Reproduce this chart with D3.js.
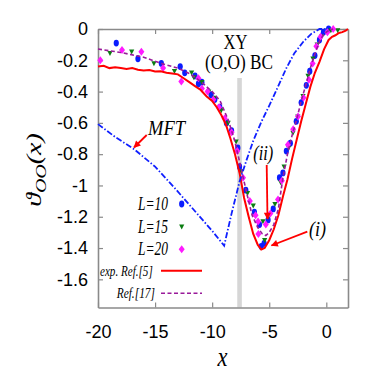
<!DOCTYPE html>
<html>
<head>
<meta charset="utf-8">
<script src="https://cdn.jsdelivr.net/npm/d3@7"></script>
<style>
  body { margin: 0; background: #fff; }
  svg { display: block; }
</style>
</head>
<body>
<script>
// data

var xTicks = [-20, -15, -10, -5, 0];
var yTicks = [0, -0.2, -0.4, -0.6, -0.8, -1, -1.2, -1.4, -1.6];

// experiment, Ref.[5]
var expX = [-20, -19.5, -19, -18.5, -18, -17.5, -17, -16.5, -16, -15.5, -15, -14.5, -14, -13.5, -13, -12.5, -12, -11.5, -11, -10.5, -10, -9.6, -9.2, -8.8, -8.4, -8.0, -7.6, -7.2, -6.8, -6.4, -6.0, -5.7, -5.4, -5.0, -4.6, -4.2, -3.8, -3.4, -3.0, -2.6, -2.2, -1.8, -1.4, -1.0, -0.6, -0.2, 0.2, 0.5, 0.8, 1.1, 1.4, 1.7, 1.9];
var expY = [-0.24, -0.235, -0.25, -0.245, -0.25, -0.255, -0.25, -0.26, -0.265, -0.262, -0.272, -0.27, -0.28, -0.285, -0.29, -0.315, -0.34, -0.365, -0.39, -0.43, -0.46, -0.50, -0.55, -0.61, -0.70, -0.80, -0.92, -1.08, -1.20, -1.31, -1.38, -1.41, -1.40, -1.35, -1.28, -1.19, -1.07, -0.96, -0.83, -0.71, -0.59, -0.48, -0.37, -0.28, -0.21, -0.13, -0.07, -0.05, -0.04, -0.025, -0.02, -0.01, 0];

// Ref.[17]
var refX = [-20, -18, -16, -14.5, -13, -12, -11, -10, -9.3, -8.6, -8.0, -7.5, -7.0, -6.5, -6.0, -5.6, -5.3, -5.0, -4.6, -4.2, -3.8, -3.4, -3.0, -2.6, -2.2, -1.8, -1.4, -1.0, -0.6, -0.2, 0.2, 0.6];
var refY = [-0.128, -0.15, -0.18, -0.219, -0.25, -0.285, -0.335, -0.40, -0.46, -0.58, -0.72, -0.88, -1.04, -1.19, -1.27, -1.31, -1.32, -1.30, -1.25, -1.15, -0.95, -0.80, -0.68, -0.58, -0.46, -0.36, -0.25, -0.16, -0.08, -0.03, -0.01, 0];

// mean field theory
var mftX = [-20, -18.5, -16.8, -15, -13.3, -11.5, -10, -8.95, -8.3, -7.6, -7.0, -6.4, -5.7, -5.0, -4.3, -3.5, -2.8, -2.0, -1.3, -0.6, 0];
var mftY = [-0.608, -0.69, -0.77, -0.88, -1.015, -1.165, -1.29, -1.385, -1.18, -0.975, -0.84, -0.715, -0.595, -0.49, -0.38, -0.25, -0.155, -0.08, -0.03, 0, 0];

// simulation points
var l10X = [-18.4, -16.5, -14.45, -12.8, -12.4, -11.5, -11.2, -10.9, -10.1, -9.77, -9.33, -8.75, -8.3, -7.75, -7.6, -7.05, -6.3, -5.85, -5.7, -5.45, -5.1, -4.65, -4.1, -3.8, -3.5, -3.15, -2.63, -2.2, -1.75, -1.45, -1.0, -0.6, -0.25, 0.2];
var l10Y = [-0.09, -0.19, -0.22, -0.24, -0.28, -0.30, -0.35, -0.34, -0.42, -0.45, -0.50, -0.60, -0.65, -0.76, -0.88, -1.03, -1.17, -1.25, -1.39, -1.37, -1.22, -1.15, -0.95, -0.92, -0.78, -0.73, -0.59, -0.47, -0.36, -0.27, -0.17, -0.07, -0.02, 0];

var l15X = [-18.95, -17.05, -15.1, -13.3, -11.8, -11.6, -10.9, -10.3, -9.8, -9.2, -8.6, -7.9, -7.45, -6.9, -6.4, -5.55, -5.4, -5.1, -4.5, -4.0, -3.7, -3.3, -2.92, -2.5, -2.04, -1.6, -1.17, -0.8, -0.4, 0.4, 1.0];
var l15Y = [-0.155, -0.145, -0.22, -0.27, -0.28, -0.31, -0.34, -0.40, -0.44, -0.52, -0.60, -0.72, -0.91, -1.05, -1.13, -1.23, -1.35, -1.20, -1.12, -0.98, -0.88, -0.76, -0.665, -0.56, -0.43, -0.30, -0.19, -0.10, -0.05, -0.01, -0.01];

var l20X = [-19.8, -17.9, -16.2, -14.3, -12.7, -11.2, -10.9, -10.4, -9.9, -9.4, -8.9, -8.3, -7.8, -7.3, -6.7, -6.2, -5.98, -5.95, -5.3, -4.9, -4.23, -3.9, -3.36, -2.9, -2.48, -2.0, -1.52, -1.2, -0.87, -0.5, 0.1, 0.6];
var l20Y = [-0.2, -0.135, -0.145, -0.25, -0.335, -0.315, -0.38, -0.40, -0.45, -0.50, -0.57, -0.66, -0.78, -0.95, -1.10, -1.19, -1.23, -1.31, -1.25, -1.18, -1.09, -0.97, -0.74, -0.64, -0.56, -0.44, -0.325, -0.22, -0.11, -0.05, -0.02, 0];

var bcX = -7.6;

var width = 374;
var height = 382;
var padL = 98, padR = 348, padT = 29, padB = 307.5;

var svg = d3.select('body').append('svg')
  .attr('width', width)
  .attr('height', height);

var x = d3.scaleLinear().domain([-20, 1.9]).range([padL, padR]);
var y = d3.scaleLinear().domain([-1.78, 0]).range([padB, padT]);

var zip = function(xs, ys) {
  return xs.map(function(v, i) { return [v, ys[i]]; });
};

var fmt = function(d) { return d === 0 ? '0' : String(+d.toFixed(1)).replace('\u2212', '-'); };

// gray boundary band
svg.append('rect')
  .attr('x', x(bcX) - 2.3)
  .attr('y', 78)
  .attr('width', 4.6)
  .attr('height', padB - 78)
  .attr('fill', '#d6d6d6');

// axes
var axisColor = '#8a8a8a';
var styleAxis = function(g) {
  g.select('.domain').attr('stroke', axisColor).attr('stroke-width', 1.6);
  g.selectAll('.tick line').attr('stroke', axisColor).attr('stroke-width', 1.2);
  g.selectAll('.tick text')
    .attr('fill', '#000')
    .style('font-family', '"Liberation Sans Narrow", "Liberation Sans", sans-serif')
    .style('font-size', '18px');
};

svg.append('g')
  .attr('transform', 'translate(0,' + padB + ')')
  .call(d3.axisBottom(x).tickValues(xTicks).tickSizeInner(-5).tickSizeOuter(0).tickPadding(18).tickFormat(fmt))
  .call(styleAxis);

svg.append('g')
  .attr('transform', 'translate(0,' + padT + ')')
  .call(d3.axisTop(x).tickValues(xTicks).tickSizeInner(-5).tickSizeOuter(0).tickFormat(''))
  .call(styleAxis);

svg.append('g')
  .attr('transform', 'translate(' + padL + ',0)')
  .call(d3.axisLeft(y).tickValues(yTicks).tickSizeInner(-5).tickSizeOuter(0).tickPadding(10).tickFormat(fmt))
  .call(styleAxis);

svg.append('g')
  .attr('transform', 'translate(' + padR + ',0)')
  .call(d3.axisRight(y).tickValues(yTicks).tickSizeInner(-5).tickSizeOuter(0).tickFormat(''))
  .call(styleAxis);

var line = d3.line().x(function(d) { return x(d[0]); }).y(function(d) { return y(d[1]); });

// points
var plot = svg.append('g');

plot.selectAll('.l10').data(zip(l10X, l10Y)).enter().append('ellipse')
  .attr('class', 'l10')
  .attr('cx', function(d) { return x(d[0]); })
  .attr('cy', function(d) { return y(d[1]); })
  .attr('rx', 2.6).attr('ry', 3.4)
  .attr('fill', '#0a1cff');

var tri = function(cx, cy) {
  return 'M' + (cx - 2.6) + ',' + (cy - 2.2) + 'L' + (cx + 2.6) + ',' + (cy - 2.2) + 'L' + cx + ',' + (cy + 2.8) + 'Z';
};
plot.selectAll('.l15').data(zip(l15X, l15Y)).enter().append('path')
  .attr('class', 'l15')
  .attr('d', function(d) { return tri(x(d[0]), y(d[1])); })
  .attr('fill', '#0b7d12');

var dia = function(cx, cy) {
  return 'M' + cx + ',' + (cy - 4) + 'L' + (cx + 3) + ',' + cy + 'L' + cx + ',' + (cy + 4) + 'L' + (cx - 3) + ',' + cy + 'Z';
};
plot.selectAll('.l20').data(zip(l20X, l20Y)).enter().append('path')
  .attr('class', 'l20')
  .attr('d', function(d) { return dia(x(d[0]), y(d[1])); })
  .attr('fill', '#ff1aff');

// curves
plot.append('path').datum(zip(expX, expY))
  .attr('d', line).attr('fill', 'none')
  .attr('stroke', '#ff0000').attr('stroke-width', 2);

plot.append('path').datum(zip(refX, refY))
  .attr('d', line).attr('fill', 'none')
  .attr('stroke', '#9a1a9a').attr('stroke-width', 1.6)
  .attr('stroke-dasharray', '4,2.5');

plot.append('path').datum(zip(mftX, mftY))
  .attr('d', line).attr('fill', 'none')
  .attr('stroke', '#1020ff').attr('stroke-width', 1.8)
  .attr('stroke-dasharray', '6,2,1.5,2');

// text helper: size and width fixed from the picture
var label = function(px, py, str, size, len, opts) {
  opts = opts || {};
  var t = svg.append('text')
    .attr('x', px).attr('y', py)
    .attr('text-anchor', opts.anchor || 'start')
    .style('font-family', '"Liberation Serif", "DejaVu Serif", serif')
    .style('font-style', opts.italic ? 'italic' : 'normal')
    .style('font-size', size + 'px')
    .text(str);
  if (len) t.attr('textLength', len).attr('lengthAdjust', 'spacingAndGlyphs');
  return t;
};

label(235.5, 49, 'XY', 22, 24, { anchor: 'middle' });
label(239, 69, '(O,O) BC', 22, 68, { anchor: 'middle' });

label(166.5, 135, 'MFT', 22, 37, { anchor: 'middle', italic: true });
label(263.3, 160, '(ii)', 20, 20, { anchor: 'middle', italic: true });
label(317.6, 236, '(i)', 20, 17, { anchor: 'middle', italic: true });

// arrows
svg.append('defs').append('marker')
  .attr('id', 'head')
  .attr('viewBox', '0 0 10 10')
  .attr('refX', 9).attr('refY', 5)
  .attr('markerWidth', 9).attr('markerHeight', 7)
  .attr('markerUnits', 'userSpaceOnUse')
  .attr('orient', 'auto')
  .append('path').attr('d', 'M0,0L10,5L0,10Z').attr('fill', '#ff0000');

var arrows = [[146.7, 135, 134, 147.5], [266.7, 165, 267.5, 219], [307.3, 231.7, 271.5, 245.5]];
svg.selectAll('.arrow').data(arrows).enter().append('line')
  .attr('class', 'arrow')
  .attr('x1', function(d) { return d[0]; }).attr('y1', function(d) { return d[1]; })
  .attr('x2', function(d) { return d[2]; }).attr('y2', function(d) { return d[3]; })
  .attr('stroke', '#ff0000').attr('stroke-width', 1.8)
  .attr('marker-end', 'url(#head)');

// legend
var lg = svg.append('g');
label(168, 210, 'L=10', 19, 30, { anchor: 'end', italic: true });
label(168, 232.7, 'L=15', 19, 30, { anchor: 'end', italic: true });
label(168, 255.3, 'L=20', 19, 30, { anchor: 'end', italic: true });
label(152.7, 275.5, 'exp. Ref.[5]', 15, 52.7, { anchor: 'end', italic: true });
label(155, 298.3, 'Ref.[17]', 15, 38.3, { anchor: 'end', italic: true });

lg.append('ellipse').attr('cx', 181.7).attr('cy', 204).attr('rx', 2.6).attr('ry', 3.4).attr('fill', '#0a1cff');
lg.append('path').attr('d', tri(181.7, 226.7)).attr('fill', '#0b7d12');
lg.append('path').attr('d', dia(181.7, 249.3)).attr('fill', '#ff1aff');
lg.append('line').attr('x1', 161).attr('x2', 202).attr('y1', 270.7).attr('y2', 270.7)
  .attr('stroke', '#ff0000').attr('stroke-width', 2);
lg.append('line').attr('x1', 161).attr('x2', 202).attr('y1', 293.3).attr('y2', 293.3)
  .attr('stroke', '#9a1a9a').attr('stroke-width', 1.6).attr('stroke-dasharray', '4,2.5');

// axis titles
label(222.5, 366, 'x', 28, 10, { anchor: 'middle', italic: true });

var yt = svg.append('text')
  .attr('transform', 'translate(41,170) scale(0.77,1) rotate(-90)')
  .attr('text-anchor', 'middle')
  .style('font-family', '"Liberation Serif", "DejaVu Serif", serif')
  .style('font-style', 'italic')
  .style('font-size', '28px');
yt.append('tspan').text('\u03D1');
yt.append('tspan').attr('dy', 6).style('font-size', '20px').text('OO');
yt.append('tspan').attr('dy', -6).text('(x)');
</script>
</body>
</html>
